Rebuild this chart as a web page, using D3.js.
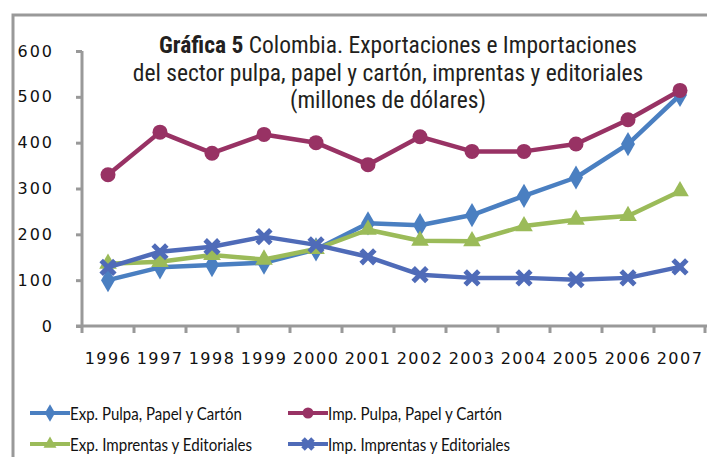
<!DOCTYPE html>
<html>
<head>
<meta charset="utf-8">
<script src="https://cdn.jsdelivr.net/npm/d3@7"></script>
<style>
  body { margin: 0; background: #fff; }
</style>
</head>
<body>
<svg id="drawing_region"></svg>
<script>
const years = ['1996','1997','1998','1999','2000','2001','2002','2003','2004','2005','2006','2007'];
const yTicks = [0, 100, 200, 300, 400, 500, 600];

const expPulpa = [100, 128, 133, 138, 167, 224, 220, 242, 284, 324, 397, 504];
const impPulpa = [330, 423, 377, 418, 400, 352, 413, 381, 381, 397, 450, 514];
const expImprentas = [136, 140, 155, 145, 168, 210, 186, 185, 218, 232, 240, 294];
const impImprentas = [128, 162, 173, 195, 177, 151, 112, 105, 105, 101, 105, 129];

const seriesNames = [
    'Exp. Pulpa, Papel y Cartón',
    'Imp. Pulpa, Papel y Cartón',
    'Exp. Imprentas y Editoriales',
    'Imp. Imprentas y Editoriales'
];

const series = [
    { name: seriesNames[0], values: expPulpa,     color: '#4a7fc1', shape: 'diamond' },
    { name: seriesNames[1], values: impPulpa,     color: '#983264', shape: 'circle' },
    { name: seriesNames[2], values: expImprentas, color: '#9bbb59', shape: 'triangle' },
    { name: seriesNames[3], values: impImprentas, color: '#4f6bb8', shape: 'cross' }
];

const width = 707;
const height = 457;

const svg = d3.select('#drawing_region')
    .attr('width', width)
    .attr('height', height);

// gray frame (top and left only visible)
svg.append('path')
    .attr('d', `M13,${height} L13,15 L${width},15`)
    .attr('fill', 'none')
    .attr('stroke', '#999')
    .attr('stroke-width', 3);

const xscale = d3.scaleBand()
    .domain(years)
    .range([82, 706]);

const yscale = d3.scaleLinear()
    .domain([0, 600])
    .range([326, 51]);

// y axis
const yAxis = svg.append('g')
    .attr('transform', 'translate(82,0)')
    .call(d3.axisLeft(yscale).tickValues(yTicks).tickSize(6).tickPadding(22));
yAxis.select('.domain').attr('stroke', '#999').attr('stroke-width', 3).attr('d', 'M0,51V327');
yAxis.selectAll('.tick line').attr('stroke', '#999').attr('stroke-width', 3).attr('x2', -6);
yAxis.selectAll('.tick text')
    .attr('font-family', 'DejaVu Sans')
    .attr('font-size', '16px')
    .attr('fill', '#111')
    .attr('letter-spacing', '2px');

// x axis
const xAxis = svg.append('g')
    .attr('transform', 'translate(0,326)');
xAxis.append('line')
    .attr('x1', 76).attr('x2', 707)
    .attr('stroke', '#999').attr('stroke-width', 3);
xAxis.selectAll('.xtick')
    .data(years.concat(['end']))
    .enter()
    .append('line')
    .attr('x1', (d, i) => i < years.length ? xscale(d) : xscale.range()[1] - 1)
    .attr('x2', (d, i) => i < years.length ? xscale(d) : xscale.range()[1] - 1)
    .attr('y1', 0).attr('y2', 7)
    .attr('stroke', '#999').attr('stroke-width', 3);
xAxis.selectAll('.xlabel')
    .data(years)
    .enter()
    .append('text')
    .attr('x', d => xscale(d) + xscale.bandwidth() / 2)
    .attr('y', 38)
    .attr('text-anchor', 'middle')
    .attr('font-family', 'DejaVu Sans')
    .attr('font-size', '16px')
    .attr('letter-spacing', '1.5px')
    .attr('fill', '#111')
    .text(d => d);

// title
const title = svg.append('text')
    .attr('text-anchor', 'middle')
    .attr('font-family', 'Liberation Sans Narrow, Roboto Condensed, sans-serif')
    .attr('font-size', '23.5px')
    .attr('fill', '#231f20');
const t1 = title.append('tspan').attr('x', 398).attr('y', 53);
t1.append('tspan').attr('font-weight', 'bold').text('Gráfica 5');
t1.append('tspan').text(' Colombia. Exportaciones e Importaciones');
title.append('tspan').attr('x', 388).attr('y', 81).text('del sector pulpa, papel y cartón, imprentas y editoriales');
title.append('tspan').attr('x', 388).attr('y', 108).text('(millones de dólares)');

const cx = i => xscale(years[i]) + xscale.bandwidth() / 2;

function marker(g, shape, color, size) {
    if (shape === 'circle') {
        g.append('circle').attr('r', size * 0.5).attr('fill', color);
    } else if (shape === 'diamond') {
        g.append('path').attr('d', d3.symbol(d3.symbolDiamond, size * size * 0.75)())
            .attr('fill', color);
    } else if (shape === 'triangle') {
        g.append('path').attr('d', d3.symbol(d3.symbolTriangle, size * size * 0.6)())
            .attr('fill', color);
    } else {
        g.append('path').attr('d', d3.symbol(d3.symbolX, size * size * 0.55)())
            .attr('stroke', color).attr('stroke-width', 5).attr('fill', 'none');
    }
}

const line = d3.line()
    .x((d, i) => cx(i))
    .y(d => yscale(d));

series.forEach(s => {
    const g = svg.append('g');
    g.append('path')
        .datum(s.values)
        .attr('d', line)
        .attr('fill', 'none')
        .attr('stroke', s.color)
        .attr('stroke-width', 4.5)
        .attr('stroke-linejoin', 'round');
    s.values.forEach((v, i) => {
        const m = g.append('g').attr('transform', `translate(${cx(i)},${yscale(v)})`);
        marker(m, s.shape, s.color, 15);
    });
});

// legend
const legendPos = [[30, 413], [288, 413], [30, 444], [288, 444]];
const legendWidths = [172, 174, 182, 182];
series.forEach((s, i) => {
    const [lx, ly] = legendPos[i];
    const g = svg.append('g').attr('transform', `translate(${lx},${ly})`);
    g.append('line')
        .attr('x1', 0).attr('x2', 40)
        .attr('stroke', s.color).attr('stroke-width', 4);
    const m = g.append('g').attr('transform', 'translate(20,0)');
    marker(m, s.shape, s.color, 11);
    g.append('text')
        .attr('x', 40)
        .attr('y', 7)
        .attr('font-family', 'Lato, sans-serif')
        .attr('font-size', '18px')
        .attr('textLength', legendWidths[i])
        .attr('lengthAdjust', 'spacingAndGlyphs')
        .attr('fill', '#111')
        .text(s.name);
});
</script>
</body>
</html>
